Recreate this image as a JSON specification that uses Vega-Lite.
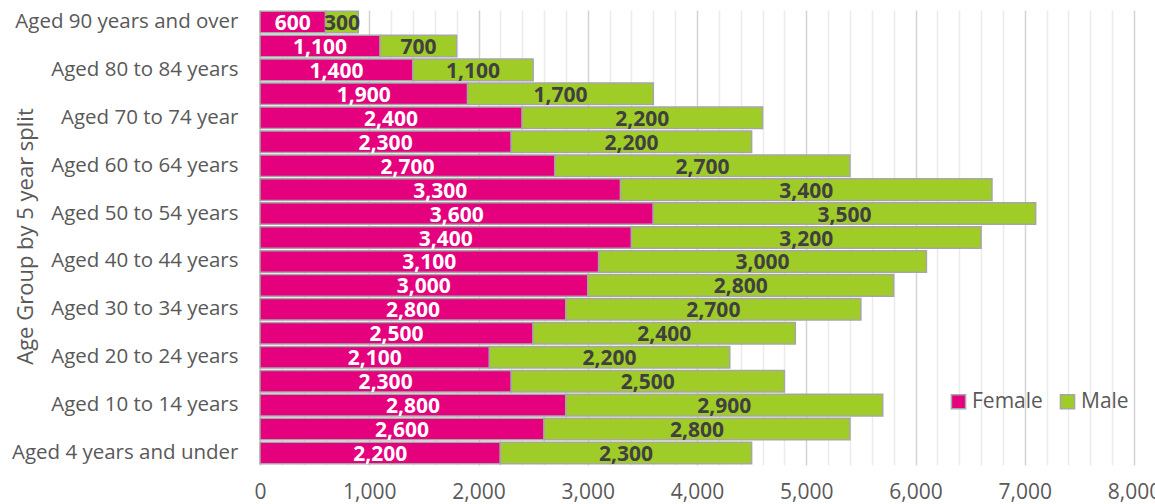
{
  "$schema": "https://vega.github.io/schema/vega-lite/v6.json",
  "width": 874,
  "height": 455,
  "autosize": {"type": "none"},
  "padding": {"left": 260, "top": 10, "right": 21, "bottom": 39},
  "background": "white",
  "config": {"view": {"stroke": null}, "font": "Open Sans", "axisX": {"labelOverlap": false}},
  "data": {"values": [
    {"age": "Aged 90 years and over", "sex": "Female", "value": 600},
    {"age": "Aged 90 years and over", "sex": "Male", "value": 300},
    {"age": "Aged 85 to 89 years", "sex": "Female", "value": 1100},
    {"age": "Aged 85 to 89 years", "sex": "Male", "value": 700},
    {"age": "Aged 80 to 84 years", "sex": "Female", "value": 1400},
    {"age": "Aged 80 to 84 years", "sex": "Male", "value": 1100},
    {"age": "Aged 75 to 79 years", "sex": "Female", "value": 1900},
    {"age": "Aged 75 to 79 years", "sex": "Male", "value": 1700},
    {"age": "Aged 70 to 74 year", "sex": "Female", "value": 2400},
    {"age": "Aged 70 to 74 year", "sex": "Male", "value": 2200},
    {"age": "Aged 65 to 69 years", "sex": "Female", "value": 2300},
    {"age": "Aged 65 to 69 years", "sex": "Male", "value": 2200},
    {"age": "Aged 60 to 64 years", "sex": "Female", "value": 2700},
    {"age": "Aged 60 to 64 years", "sex": "Male", "value": 2700},
    {"age": "Aged 55 to 59 years", "sex": "Female", "value": 3300},
    {"age": "Aged 55 to 59 years", "sex": "Male", "value": 3400},
    {"age": "Aged 50 to 54 years", "sex": "Female", "value": 3600},
    {"age": "Aged 50 to 54 years", "sex": "Male", "value": 3500},
    {"age": "Aged 45 to 49 years", "sex": "Female", "value": 3400},
    {"age": "Aged 45 to 49 years", "sex": "Male", "value": 3200},
    {"age": "Aged 40 to 44 years", "sex": "Female", "value": 3100},
    {"age": "Aged 40 to 44 years", "sex": "Male", "value": 3000},
    {"age": "Aged 35 to 39 years", "sex": "Female", "value": 3000},
    {"age": "Aged 35 to 39 years", "sex": "Male", "value": 2800},
    {"age": "Aged 30 to 34 years", "sex": "Female", "value": 2800},
    {"age": "Aged 30 to 34 years", "sex": "Male", "value": 2700},
    {"age": "Aged 25 to 29 years", "sex": "Female", "value": 2500},
    {"age": "Aged 25 to 29 years", "sex": "Male", "value": 2400},
    {"age": "Aged 20 to 24 years", "sex": "Female", "value": 2100},
    {"age": "Aged 20 to 24 years", "sex": "Male", "value": 2200},
    {"age": "Aged 15 to 19 years", "sex": "Female", "value": 2300},
    {"age": "Aged 15 to 19 years", "sex": "Male", "value": 2500},
    {"age": "Aged 10 to 14 years", "sex": "Female", "value": 2800},
    {"age": "Aged 10 to 14 years", "sex": "Male", "value": 2900},
    {"age": "Aged 5 to 9 years", "sex": "Female", "value": 2600},
    {"age": "Aged 5 to 9 years", "sex": "Male", "value": 2800},
    {"age": "Aged 4 years and under", "sex": "Female", "value": 2200},
    {"age": "Aged 4 years and under", "sex": "Male", "value": 2300}
  ]},
  "transform": [
    {"stack": "value", "groupby": ["age"], "sort": [{"field": "sex"}], "as": ["v0", "v1"]},
    {"calculate": "(datum.v0 + datum.v1) / 2", "as": "mid"}
  ],
  "encoding": {
    "y": {
      "field": "age",
      "type": "nominal",
      "sort": ["Aged 90 years and over", "Aged 85 to 89 years", "Aged 80 to 84 years", "Aged 75 to 79 years", "Aged 70 to 74 year", "Aged 65 to 69 years", "Aged 60 to 64 years", "Aged 55 to 59 years", "Aged 50 to 54 years", "Aged 45 to 49 years", "Aged 40 to 44 years", "Aged 35 to 39 years", "Aged 30 to 34 years", "Aged 25 to 29 years", "Aged 20 to 24 years", "Aged 15 to 19 years", "Aged 10 to 14 years", "Aged 5 to 9 years", "Aged 4 years and under"],
      "scale": {"paddingInner": 0.1, "paddingOuter": 0.05},
      "axis": {
        "title": "Age Group by 5 year split",
        "values": ["Aged 90 years and over", "Aged 80 to 84 years", "Aged 70 to 74 year", "Aged 60 to 64 years", "Aged 50 to 54 years", "Aged 40 to 44 years", "Aged 30 to 34 years", "Aged 20 to 24 years", "Aged 10 to 14 years", "Aged 4 years and under"],
        "domain": false,
        "ticks": false,
        "labelFontSize": 20.5,
        "labelColor": "#595959",
        "labelPadding": 22,
        "labelLimit": 0,
        "titleFontSize": 22,
        "titleFontWeight": "normal",
        "titleColor": "#595959",
        "titleAnchor": "middle",
        "titleX": -235,
        "titleY": 226,
        "titleAngle": -90,
        "titleBaseline": "middle"
      }
    }
  },
  "layer": [
    {
      "mark": {"type": "bar", "stroke": "#a6a6a6", "strokeWidth": 1.5},
      "encoding": {
        "x": {
          "field": "v0",
          "type": "quantitative",
          "scale": {"domain": [0, 8000], "nice": false},
          "axis": {
            "title": null,
            "values": [0, 200, 400, 600, 800, 1000, 1200, 1400, 1600, 1800, 2000, 2200, 2400, 2600, 2800, 3000, 3200, 3400, 3600, 3800, 4000, 4200, 4400, 4600, 4800, 5000, 5200, 5400, 5600, 5800, 6000, 6200, 6400, 6600, 6800, 7000, 7200, 7400, 7600, 7800, 8000],
            "labelExpr": "datum.value % 1000 === 0 ? format(datum.value, ',') : ''",
            "labelOverlap": false,
            "domain": false,
            "ticks": false,
            "grid": true,
            "gridColor": {"condition": {"test": "datum.value % 1000 === 0", "value": "#d4d4d4"}, "value": "#ebebeb"},
            "gridWidth": 1.5,
            "labelFontSize": 21,
            "labelColor": "#595959",
            "labelPadding": 16,
            "labelFlush": false
          }
        },
        "x2": {"field": "v1"},
        "color": {
          "field": "sex",
          "type": "nominal",
          "scale": {"domain": ["Female", "Male"], "range": ["#e5007d", "#a0cc28"]},
          "legend": {
            "title": null,
            "orient": "none",
            "direction": "horizontal",
            "legendX": 688,
            "legendY": 381,
            "symbolType": "square",
            "symbolSize": 200,
            "symbolStrokeColor": "#a6a6a6",
            "symbolStrokeWidth": 1.5,
            "labelFontSize": 21,
            "labelColor": "#595959",
            "columnPadding": 14,
            "labelOffset": 3
          }
        }
      }
    },
    {
      "mark": {"type": "text", "fontSize": 21, "fontWeight": "bold", "baseline": "middle", "dy": 2},
      "encoding": {
        "x": {
          "field": "mid",
          "type": "quantitative",
          "axis": {
            "title": null,
            "values": [0, 200, 400, 600, 800, 1000, 1200, 1400, 1600, 1800, 2000, 2200, 2400, 2600, 2800, 3000, 3200, 3400, 3600, 3800, 4000, 4200, 4400, 4600, 4800, 5000, 5200, 5400, 5600, 5800, 6000, 6200, 6400, 6600, 6800, 7000, 7200, 7400, 7600, 7800, 8000],
            "labelExpr": "datum.value % 1000 === 0 ? format(datum.value, ',') : ''",
            "labelOverlap": false,
            "domain": false,
            "ticks": false,
            "grid": true,
            "gridColor": {"condition": {"test": "datum.value % 1000 === 0", "value": "#d4d4d4"}, "value": "#ebebeb"},
            "gridWidth": 1.5,
            "labelFontSize": 21,
            "labelColor": "#595959",
            "labelPadding": 16,
            "labelFlush": false
          }
        },
        "text": {"field": "value", "type": "quantitative", "format": ","},
        "color": {"condition": {"test": "datum.sex === 'Female'", "value": "white"}, "value": "#404040"}
      }
    }
  ]
}
